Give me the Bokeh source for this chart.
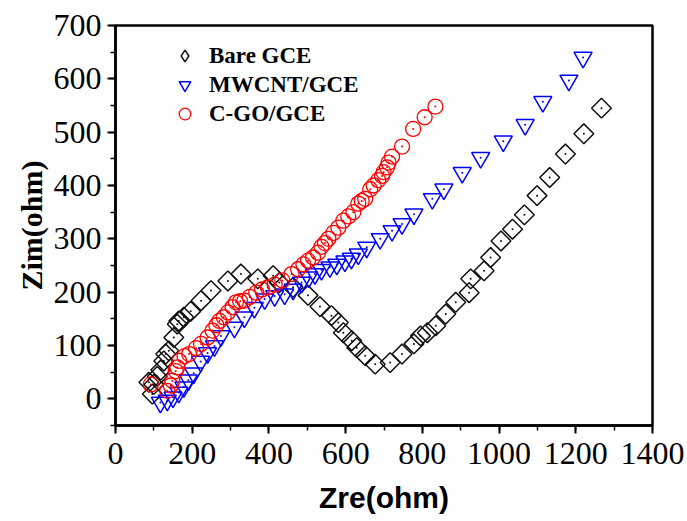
import math
from bokeh.plotting import figure
from bokeh.models import Range1d, Legend, LegendItem, SingleIntervalTicker, ColumnDataSource, Title
from bokeh.embed import file_html
from bokeh.resources import INLINE

# ---- data ----
bare_x = [87, 96, 100, 109, 118, 126, 131, 139, 152, 161, 165, 178, 196, 223, 249, 293, 327, 371,
          411, 427, 463, 502, 533, 563, 581, 594, 616, 629, 651, 677, 716, 747, 778, 795, 813, 835,
          861, 887, 922, 926, 961, 978, 1005, 1035, 1066, 1099, 1132, 1173, 1221, 1267]
bare_y = [31, 9, 27, 42, 54, 71, 84, 90, 115, 140, 146, 153, 164, 184, 203, 221, 234, 225,
          231, 218, 209, 194, 173, 156, 143, 124, 109, 96, 81, 65, 68, 84, 103, 118, 124, 137,
          159, 181, 199, 225, 240, 265, 296, 318, 345, 381, 415, 459, 497, 545]

mw_x = [117, 135, 150, 165, 178, 190, 204, 222, 240, 258, 275, 310, 336, 362, 389, 415, 441, 463,
        485, 504, 520, 537, 559, 577, 598, 615, 633, 655, 690, 721, 747, 778, 826, 856, 904, 952,
        1011, 1068, 1114, 1182, 1219]
mw_y = [-7, -3, 3, 12, 22, 35, 48, 70, 86, 99, 118, 134, 153, 171, 187, 193, 196, 205,
        218, 228, 234, 242, 247, 252, 258, 263, 271, 284, 300, 315, 328, 346, 375, 393, 424, 452,
        483, 514, 557, 597, 640]

cgo_x = [92, 135, 144, 148, 157, 161, 166, 180, 192, 210, 223, 240, 253, 263, 271, 282, 293, 305,
         314, 325, 336, 350, 367, 382, 397, 415, 435, 459, 476, 490, 502, 515, 528, 537, 546, 555,
         568, 581, 594, 607, 620, 633, 642, 651, 664, 673, 685, 695, 699, 708, 712, 721, 747, 776,
         806, 834]
cgo_y = [27, 15, 25, 34, 52, 59, 71, 80, 84, 95, 103, 115, 128, 138, 146, 153, 162, 172,
         181, 183, 184, 191, 199, 205, 209, 214, 222, 234, 243, 252, 259, 265, 274, 285, 292, 300,
         311, 321, 334, 342, 350, 366, 371, 375, 393, 400, 410, 418, 425, 434, 443, 454, 473, 506,
         528, 548]

labels = ["Bare GCE", "MWCNT/GCE", "C-GO/GCE"]

SERIF = "'Liberation Serif', 'Times New Roman', serif"
SANS = "'Liberation Sans', Arial, sans-serif"
BLACK, BLUE, RED = "#111111", "#0000ff", "#ff0000"

p = figure(width=687, height=521, output_backend="svg", toolbar_location=None,
           x_range=Range1d(0, 1400), y_range=Range1d(-50, 700),
           min_border_left=115, min_border_right=35, min_border_top=25, min_border_bottom=96)
p.grid.visible = False
p.background_fill_color = "white"
p.border_fill_color = "white"
p.outline_line_color = "black"
p.outline_line_width = 2.5

src_b = ColumnDataSource(dict(x=bare_x, y=bare_y))
src_m = ColumnDataSource(dict(x=mw_x, y=mw_y))
src_c = ColumnDataSource(dict(x=cgo_x, y=cgo_y))

p.scatter("x", "y", source=src_b, marker="square", angle=math.pi / 4, size=14,
          fill_color=None, line_color=BLACK, line_width=1.5)
p.scatter("x", "y", source=src_b, marker="circle", size=2, fill_color=BLACK, line_color=None)
rm = p.scatter("x", "y", source=src_m, marker="inverted_triangle", size=18,
               fill_color=None, line_color=BLUE, line_width=1.5)
p.scatter("x", "y", source=src_m, marker="circle", size=2, fill_color=BLUE, line_color=None)
rc = p.scatter("x", "y", source=src_c, marker="circle", size=15,
               fill_color=None, line_color=RED, line_width=1.3)
p.scatter("x", "y", source=src_c, marker="circle", size=2, fill_color=RED, line_color=None)
# hidden renderer used only for the legend glyph (the legend does not rotate markers)
rb_leg = p.scatter("x", "y", source=src_b, marker="diamond", size=14,
                   fill_color=None, line_color=BLACK, line_width=1.5, visible=False)

# axes
for ax in (p.xaxis[0], p.yaxis[0]):
    ax.axis_line_width = 2.5
    ax.axis_line_color = "black"
    ax.major_tick_line_width = 2
    ax.minor_tick_line_width = 1.5
    ax.major_tick_in = 0
    ax.minor_tick_in = 0
    ax.major_tick_out = 8
    ax.minor_tick_out = 5
    ax.major_label_text_font = SERIF
    ax.major_label_text_font_size = "32px"
    ax.major_label_text_color = "black"

p.xaxis[0].ticker = SingleIntervalTicker(interval=200, num_minor_ticks=2)
p.yaxis[0].ticker = SingleIntervalTicker(interval=100, num_minor_ticks=2)
p.xaxis[0].axis_label = "Zre(ohm)"
p.xaxis[0].axis_label_text_font = SANS
p.xaxis[0].axis_label_text_font_style = "bold"
p.xaxis[0].axis_label_text_font_size = "30px"
p.xaxis[0].axis_label_text_color = "black"
p.xaxis[0].major_label_standoff = 9
p.xaxis[0].axis_label_standoff = 14
p.yaxis[0].major_label_standoff = 6

ytitle = Title(text="Zim(ohm)", align="center", text_font=SERIF, text_font_style="bold",
               text_font_size="30px", text_color="black", standoff=6)
p.add_layout(ytitle, "left")

legend = Legend(items=[
    LegendItem(label=labels[0], renderers=[rb_leg]),
    LegendItem(label=labels[1], renderers=[rm]),
    LegendItem(label=labels[2], renderers=[rc]),
], location=(55, 297))
legend.margin = 0
legend.padding = 0
legend.spacing = 0
legend.glyph_width = 29
legend.glyph_height = 29
legend.label_height = 29
legend.label_standoff = 10
legend.border_line_color = None
legend.background_fill_alpha = 0
legend.label_text_font = SERIF
legend.label_text_font_style = "bold"
legend.label_text_font_size = "23px"
legend.label_text_color = "black"
p.add_layout(legend, "center")

open("out.html", "w").write(file_html(p, INLINE))
